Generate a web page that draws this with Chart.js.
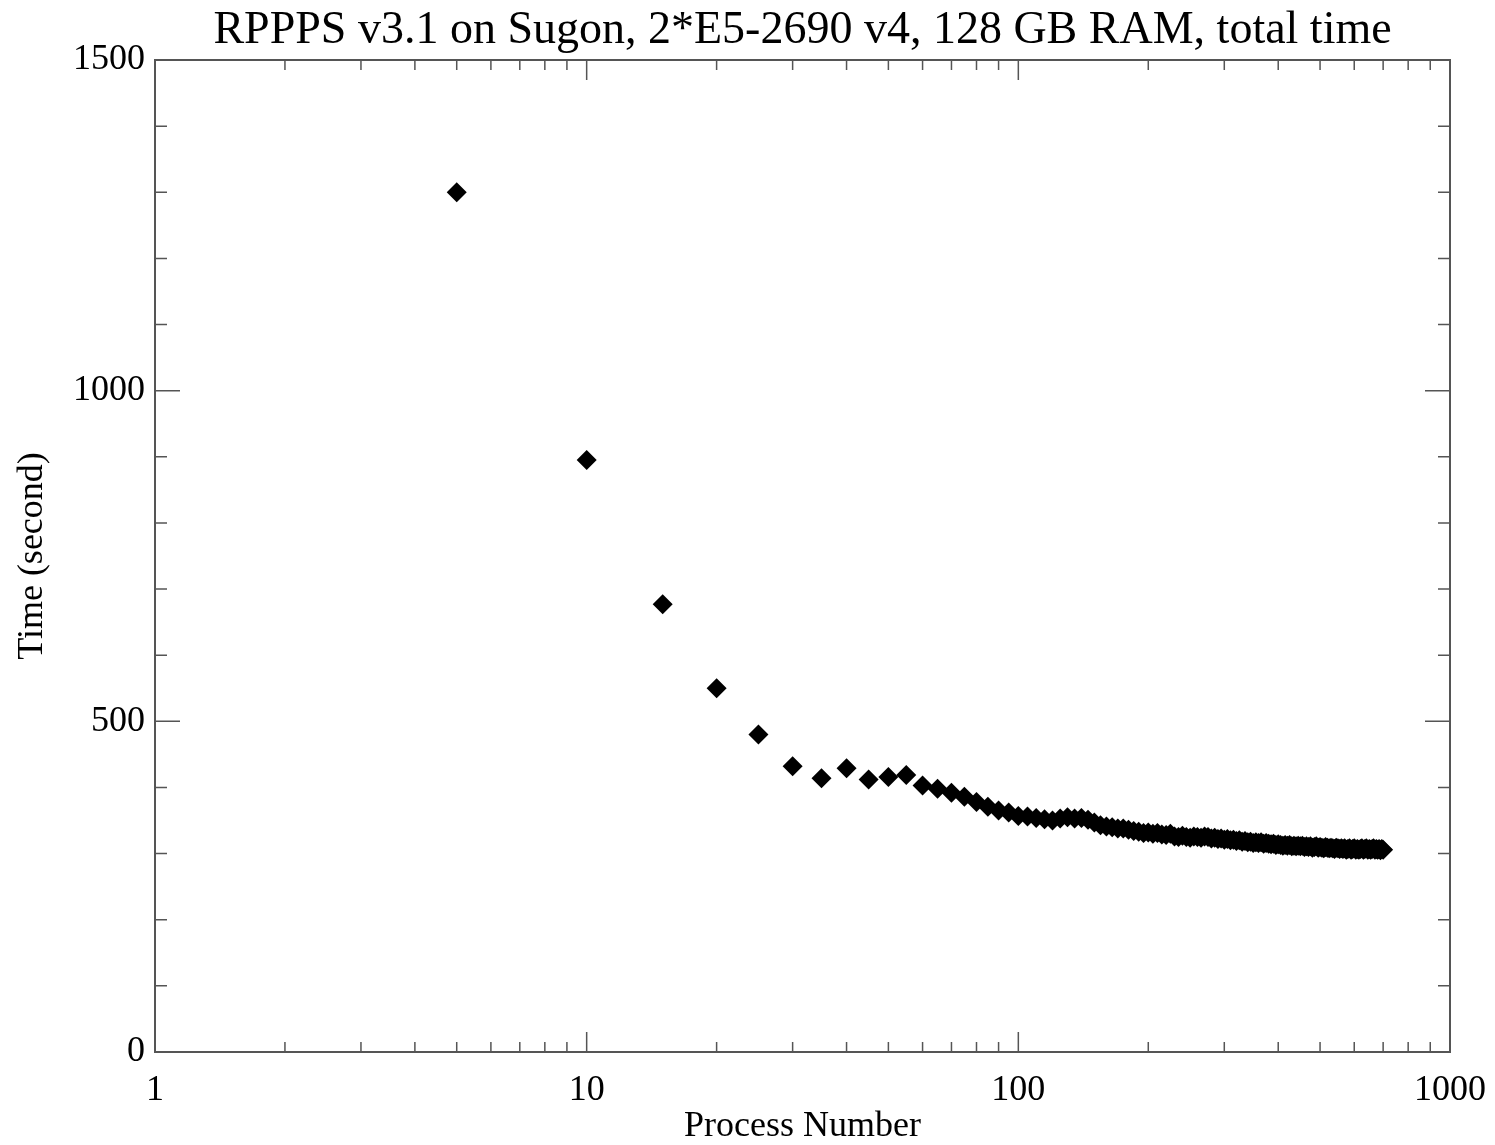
<!DOCTYPE html>
<html>
<head>
<meta charset="utf-8">
<script src="https://cdn.jsdelivr.net/npm/chart.js@4.4.1/dist/chart.umd.min.js"></script>
<style>
  body { margin: 0; background: #fff; }
  canvas { display: block; }
</style>
</head>
<body>
<canvas id="chart" width="1495" height="1145"></canvas>
<script>
const chartTitle = 'RPPPS v3.1 on Sugon, 2*E5-2690 v4, 128 GB RAM, total time'
const xTitle = 'Process Number'
const yTitle = 'Time (second)'

// process counts, 5 to 700 in steps of 5
const processes = [
  5, 10, 15, 20, 25, 30, 35, 40, 45, 50, 55, 60, 65, 70, 75, 80, 85, 90, 95, 100,
  105, 110, 115, 120, 125, 130, 135, 140, 145, 150, 155, 160, 165, 170, 175, 180, 185, 190, 195, 200,
  205, 210, 215, 220, 225, 230, 235, 240, 245, 250, 255, 260, 265, 270, 275, 280, 285, 290, 295, 300,
  305, 310, 315, 320, 325, 330, 335, 340, 345, 350, 355, 360, 365, 370, 375, 380, 385, 390, 395, 400,
  405, 410, 415, 420, 425, 430, 435, 440, 445, 450, 455, 460, 465, 470, 475, 480, 485, 490, 495, 500,
  505, 510, 515, 520, 525, 530, 535, 540, 545, 550, 555, 560, 565, 570, 575, 580, 585, 590, 595, 600,
  605, 610, 615, 620, 625, 630, 635, 640, 645, 650, 655, 660, 665, 670, 675, 680, 685, 690, 695, 700
]
// total time in seconds
const totalTime = [
  1300, 895, 677, 550, 480, 432, 414, 429, 412, 416, 419, 403, 398, 392, 386, 378, 371, 365, 362, 357,
  356, 354, 352, 350, 353, 355, 353, 354, 351, 347, 343, 341, 340, 338, 338, 336, 334, 333, 331, 332,
  330, 331, 329, 328, 330, 326, 325, 327, 325, 324, 326, 325, 324, 326, 325, 323, 324, 322, 323, 321,
  322, 320, 321, 319, 320, 318, 319, 317, 318, 316, 317, 316, 317, 315, 316, 315, 314, 315, 313, 314,
  313, 312, 313, 312, 313, 311, 312, 311, 312, 311, 312, 310, 311, 310, 311, 309, 310, 311, 309, 310,
  309, 308, 310, 309, 308, 309, 308, 307, 309, 308, 307, 308, 307, 308, 306, 307, 308, 306, 307, 308,
  306, 307, 306, 307, 308, 306, 307, 308, 306, 307, 306, 307, 308, 306, 307, 306, 307, 305, 307, 306
]
const xMajorTicks = [1, 10, 100, 1000]
const yMajorTicks = [0, 500, 1000, 1500]

const serif = "'Liberation Serif', 'DejaVu Serif', serif"

const points = processes.map((p, i) => ({ x: p, y: totalTime[i] }))

// frame with inward ticks on all four sides, like the IDL plot
const framePlugin = {
  id: 'frame',
  afterDraw(chart) {
    const ctx = chart.ctx
    const a = chart.chartArea
    const xs = chart.scales.x
    const ys = chart.scales.y
    ctx.save()
    ctx.strokeStyle = '#555'
    ctx.lineWidth = 2
    ctx.strokeRect(a.left, a.top, a.right - a.left, a.bottom - a.top)
    ctx.lineWidth = 1.5
    ctx.beginPath()
    for (let d = 1; d < 1000; d *= 10) {
      for (let m = 1; m <= 10; m++) {
        const v = d * m
        const px = xs.getPixelForValue(v)
        const len = xMajorTicks.includes(v) ? 20 : 10
        ctx.moveTo(px, a.bottom); ctx.lineTo(px, a.bottom - len)
        ctx.moveTo(px, a.top); ctx.lineTo(px, a.top + len)
      }
    }
    for (let v = 0; v <= 1500; v += 100) {
      const py = ys.getPixelForValue(v)
      const len = yMajorTicks.includes(v) ? 25 : 12
      ctx.moveTo(a.left, py); ctx.lineTo(a.left + len, py)
      ctx.moveTo(a.right, py); ctx.lineTo(a.right - len, py)
    }
    ctx.stroke()
    // title
    ctx.fillStyle = '#000'
    ctx.font = '46px ' + serif
    ctx.textAlign = 'center'
    ctx.textBaseline = 'middle'
    ctx.fillText(chartTitle, (a.left + a.right) / 2, 31)
    ctx.restore()
  }
}

new Chart(document.getElementById('chart'), {
  type: 'scatter',
  data: {
    datasets: [{
      data: points,
      pointStyle: 'rectRot',
      pointRadius: 10,
      pointHoverRadius: 10,
      backgroundColor: '#000',
      borderColor: '#000',
      borderWidth: 0
    }]
  },
  options: {
    responsive: false,
    animation: false,
    devicePixelRatio: 1,
    layout: { padding: { top: 60, right: 45, left: 0, bottom: 0 } },
    plugins: {
      legend: { display: false },
      tooltip: { enabled: false },
      title: { display: false }
    },
    scales: {
      x: {
        type: 'logarithmic',
        min: 1,
        max: 1000,
        grid: { display: false, drawTicks: false },
        border: { display: false },
        afterBuildTicks: (scale) => { scale.ticks = xMajorTicks.map(v => ({ value: v })) },
        afterFit: (scale) => {
          scale.height = 93
          scale.paddingLeft = 0
          scale.paddingRight = 0
        },
        ticks: {
          color: '#000',
          padding: 17,
          maxRotation: 0,
          autoSkip: false,
          font: { family: serif, size: 36 },
          callback: (v) => String(v)
        },
        title: {
          display: true,
          text: xTitle,
          color: '#000',
          padding: { top: 0, bottom: 0 },
          font: { family: serif, size: 36, lineHeight: 1 }
        }
      },
      y: {
        min: 0,
        max: 1500,
        grid: { display: false, drawTicks: false },
        border: { display: false },
        afterBuildTicks: (scale) => { scale.ticks = yMajorTicks.map(v => ({ value: v })) },
        afterFit: (scale) => {
          scale.width = 155
          scale.paddingTop = 0
          scale.paddingBottom = 0
        },
        ticks: {
          color: '#000',
          padding: 10,
          font: { family: serif, size: 36 },
          callback: (v) => String(v)
        },
        title: {
          display: true,
          text: yTitle,
          color: '#000',
          padding: { top: 15, bottom: 0 },
          font: { family: serif, size: 36, lineHeight: 1 }
        }
      }
    }
  },
  plugins: [framePlugin]
})
</script>
</body>
</html>
